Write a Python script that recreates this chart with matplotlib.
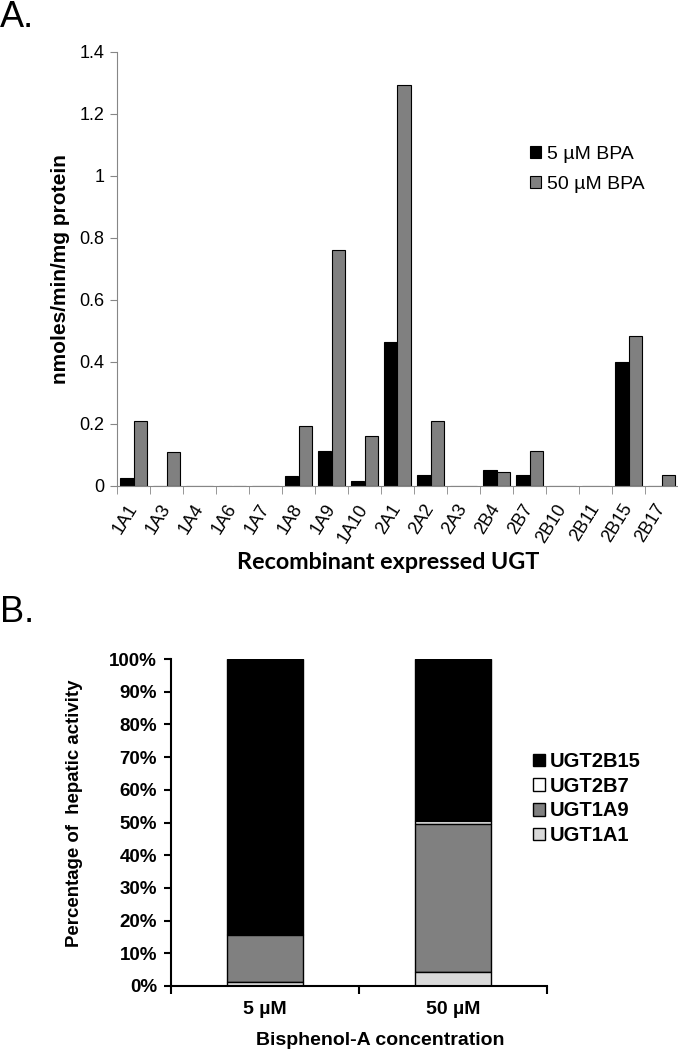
import numpy as np
import matplotlib
matplotlib.use('Agg')
from matplotlib import pyplot as plt
from matplotlib.ticker import FuncFormatter, FixedLocator

# panel A data
ugt = ['1A1', '1A3', '1A4', '1A6', '1A7', '1A8', '1A9', '1A10', '2A1', '2A2',
       '2A3', '2B4', '2B7', '2B10', '2B11', '2B15', '2B17']
bpa_5 = [0.027, 0, 0, 0, 0, 0.032, 0.113, 0.017, 0.465, 0.035,
         0, 0.052, 0.036, 0, 0, 0.40, 0]
bpa_50 = [0.21, 0.11, 0, 0, 0, 0.192, 0.76, 0.162, 1.293, 0.21,
          0, 0.046, 0.113, 0, 0, 0.485, 0.036]

# panel B data (percent of hepatic activity)
conc = ['5 µM', '50 µM']
ugt1a1 = [1.2, 4.4]
ugt1a9 = [14.3, 45.2]
ugt2b7 = [0.5, 1.0]
ugt2b15 = [84.0, 49.4]

sans = ['Liberation Sans', 'DejaVu Sans']
W, H = 678, 1050

fig = plt.figure(figsize=(6.78, 10.5), dpi=100)

# ---------- A ----------
ax = fig.add_axes([117 / W, 1 - 486 / H, 1 - 117 / W, (486 - 52) / H])
x = np.arange(len(ugt))
w = 0.4
ax.bar(x - w / 2, bpa_5, w, color='black', edgecolor='black', linewidth=0.8, label='5 µM BPA')
ax.bar(x + w / 2, bpa_50, w, color='#808080', edgecolor='black', linewidth=0.8, label='50 µM BPA')
ax.set_xlim(-0.5, len(ugt) - 0.5)
ax.set_ylim(0, 1.4)
ax.set_yticks(np.arange(0, 1.41, 0.2))
ax.yaxis.set_major_formatter(FuncFormatter(lambda v, p: '%g' % round(v, 1)))
for s in ['top', 'right']:
    ax.spines[s].set_visible(False)
for s in ['left', 'bottom']:
    ax.spines[s].set_color('#868686')
ax.set_xticks(x)
ax.set_xticklabels(ugt, rotation=58, ha='right', va='center', rotation_mode='anchor',
                   family=sans, fontsize=13)
ax.tick_params(axis='x', which='major', length=0, pad=14)
ax.xaxis.set_minor_locator(FixedLocator(np.arange(-0.5, len(ugt), 1)))
ax.tick_params(axis='x', which='minor', length=6, color='#868686', direction='out')
ax.tick_params(axis='y', length=5, color='#868686', labelsize=13, pad=4)
for t in ax.get_yticklabels():
    t.set_family(sans)
fig.text(60 / W, 1 - 269 / H, 'nmoles/min/mg protein', family=sans, fontweight='bold',
         fontsize=15, rotation=90, ha='center', va='center')
fig.text(388 / W, 1 - 569 / H, 'Recombinant expressed UGT', family=['Lato', 'DejaVu Sans'],
         fontweight='bold', fontsize=16.8, ha='center', va='baseline')
ax.legend(loc='upper left', bbox_to_anchor=(512 / W, 1 - 128 / H), bbox_transform=fig.transFigure,
          frameon=False, handlelength=0.6, handleheight=0.6, handletextpad=0.3, labelspacing=0.7,
          prop={'family': sans, 'size': 14})

fig.text(0.0, 1 - 27 / H, 'A.', family=sans, fontsize=26, va='baseline', ha='left')
fig.text(0.0, 1 - 622 / H, 'B.', family=sans, fontsize=26, va='baseline', ha='left')

# ---------- B ----------
bx = fig.add_axes([171 / W, 1 - 986 / H, (547 - 171) / W, (986 - 659) / H])
xb = np.arange(len(conc))
wb = 0.40
b1 = np.array(ugt1a1)
b2 = b1 + np.array(ugt1a9)
b3 = b2 + np.array(ugt2b7)
h4 = bx.bar(xb, ugt2b15, wb, bottom=b3, color='black', edgecolor='black', linewidth=1, label='UGT2B15')
h3 = bx.bar(xb, ugt2b7, wb, bottom=b2, color='white', edgecolor='black', linewidth=1, label='UGT2B7')
h2 = bx.bar(xb, ugt1a9, wb, bottom=b1, color='#808080', edgecolor='black', linewidth=1, label='UGT1A9')
h1 = bx.bar(xb, ugt1a1, wb, color='#d9d9d9', edgecolor='black', linewidth=1, label='UGT1A1')
bx.set_xlim(-0.5, len(conc) - 0.5)
bx.set_ylim(0, 100)
bx.set_yticks(np.arange(0, 101, 10))
bx.yaxis.set_major_formatter(FuncFormatter(lambda v, p: '%d%%' % v))
for s in ['top', 'right']:
    bx.spines[s].set_visible(False)
for s in ['left', 'bottom']:
    bx.spines[s].set_linewidth(1.5)
bx.set_xticks(xb)
bx.set_xticklabels(conc, family=sans, fontweight='bold', fontsize=14)
bx.tick_params(axis='x', which='major', length=0, pad=11)
bx.xaxis.set_minor_locator(FixedLocator(np.arange(-0.5, len(conc), 1)))
bx.tick_params(axis='x', which='minor', length=6, width=1.5, direction='out')
bx.tick_params(axis='y', length=5, width=1.5, labelsize=13.5, pad=5)
for t in bx.get_yticklabels():
    t.set_family(sans)
    t.set_fontweight('bold')
fig.text(75 / W, 1 - 813 / H, 'Percentage of  hepatic activity', family=sans, fontweight='bold',
         fontsize=13.4, rotation=90, ha='center', va='center')
fig.text(380 / W, 1 - 1045 / H, 'Bisphenol-A concentration', family=sans, fontweight='bold',
         fontsize=14, ha='center', va='baseline')
bx.legend(handles=[h4, h3, h2, h1], loc='upper left', bbox_to_anchor=(515 / W, 1 - 734 / H),
          bbox_transform=fig.transFigure, frameon=False, handlelength=0.6, handleheight=0.6,
          handletextpad=0.25, labelspacing=0.28,
          prop={'family': sans, 'weight': 'bold', 'size': 14.5})

fig.savefig('out.png', dpi=100)
